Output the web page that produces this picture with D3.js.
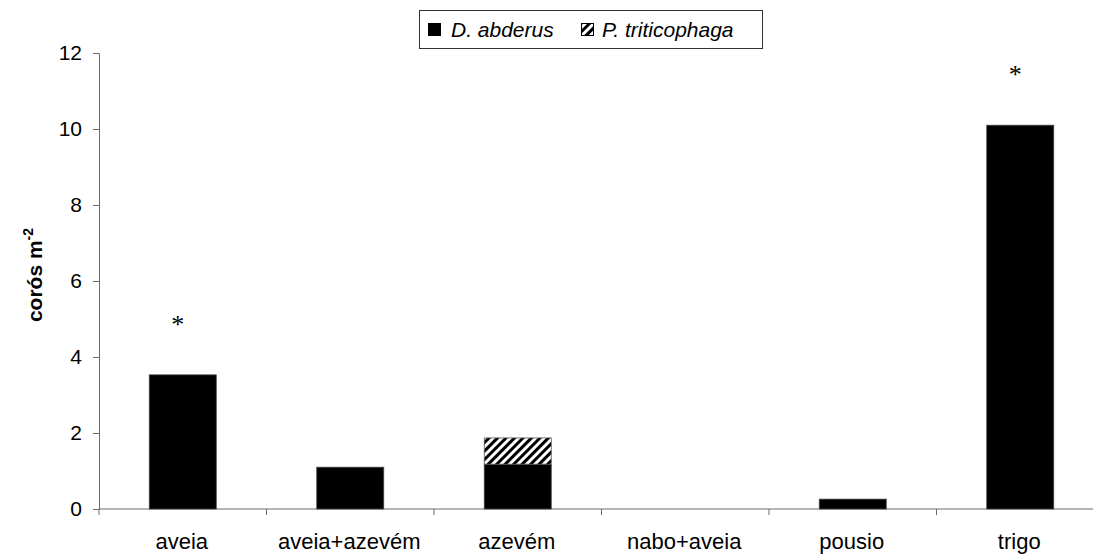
<!DOCTYPE html>
<html>
<head>
<meta charset="utf-8">
<script src="https://cdn.jsdelivr.net/npm/d3@7"></script>
<style>
  body { margin: 0; background: #fff; }
  text { font-family: "Liberation Sans", Arial, sans-serif; }
</style>
</head>
<body>
<div class="chart"></div>
<script>
var width = 1093;
var height = 554;

// data
var categories = ["aveia", "aveia+azevém", "azevém", "nabo+aveia", "pousio", "trigo"];
var abderus = [3.53, 1.1, 1.18, 0, 0.26, 10.1];
var triticophaga = [0, 0, 0.69, 0, 0, 0];
var marks = ["*", "", "", "", "", "*"];
var yTicks = [0, 2, 4, 6, 8, 10, 12];

var svg = d3.select(".chart").append("svg")
    .attr("width", width)
    .attr("height", height);

var defs = svg.append("defs");
var pat = defs.append("pattern")
    .attr("id", "hatch")
    .attr("patternUnits", "userSpaceOnUse")
    .attr("width", 6)
    .attr("height", 6)
    .attr("patternTransform", "rotate(45)");
pat.append("rect").attr("width", 6).attr("height", 6).attr("fill", "#fff");
pat.append("rect").attr("width", 3).attr("height", 6).attr("fill", "#000");

var x = d3.scaleBand()
    .domain(categories)
    .range([99, 1104])
    .paddingInner(0.6)
    .paddingOuter(0.3);

var y = d3.scaleLinear()
    .domain([0, 12])
    .range([509, 53]);

var axisColor = "#6b6b6b";

// y axis
var yAxis = svg.append("g")
    .attr("transform", "translate(99,0)")
    .call(d3.axisLeft(y).tickValues(yTicks).tickSize(6).tickPadding(11));
yAxis.select(".domain").attr("stroke", axisColor);
yAxis.selectAll(".tick line").attr("stroke", axisColor);
yAxis.selectAll(".tick text")
    .attr("font-size", 21)
    .attr("fill", "#000")
    .style("font-family", "'Liberation Sans', Arial, sans-serif");

// x axis: line + boundary ticks
svg.append("line")
    .attr("x1", 99).attr("x2", width)
    .attr("y1", y(0)).attr("y2", y(0))
    .attr("stroke", axisColor);

var step = x.step();
svg.append("g").selectAll("line")
    .data(categories)
    .enter().append("line")
    .attr("x1", function(d) { return x(d) + x.bandwidth() / 2 - step / 2; })
    .attr("x2", function(d) { return x(d) + x.bandwidth() / 2 - step / 2; })
    .attr("y1", y(0))
    .attr("y2", y(0) + 6)
    .attr("stroke", axisColor);

svg.append("g").selectAll("text")
    .data(categories)
    .enter().append("text")
    .attr("x", function(d) { return x(d) + x.bandwidth() / 2 - 1; })
    .attr("y", 549)
    .attr("text-anchor", "middle")
    .attr("font-size", 22)
    .text(function(d) { return d; });

// bars
svg.append("g").selectAll("rect")
    .data(categories)
    .enter().append("rect")
    .attr("x", function(d) { return x(d); })
    .attr("width", x.bandwidth())
    .attr("y", function(d, i) { return y(abderus[i]); })
    .attr("height", function(d, i) { return y(0) - y(abderus[i]); })
    .attr("fill", "#000")
    .attr("stroke", "#444")
    .attr("stroke-width", 0.8);

svg.append("g").selectAll("rect")
    .data(categories.filter(function(d, i) { return triticophaga[i] > 0; }))
    .enter().append("rect")
    .attr("x", function(d) { return x(d); })
    .attr("width", x.bandwidth())
    .attr("y", function(d) { var i = categories.indexOf(d); return y(abderus[i] + triticophaga[i]); })
    .attr("height", function(d) { var i = categories.indexOf(d); return y(abderus[i]) - y(abderus[i] + triticophaga[i]); })
    .attr("fill", "url(#hatch)")
    .attr("stroke", "#555")
    .attr("stroke-width", 0.8);

// significance marks
svg.append("g").selectAll("text")
    .data(categories)
    .enter().append("text")
    .attr("x", function(d) { return x(d) + x.bandwidth() / 2 - 5; })
    .attr("y", function(d, i) { return y(abderus[i] + triticophaga[i]) - 42; })
    .attr("text-anchor", "middle")
    .attr("font-size", 26)
    .style("font-family", "'Liberation Serif', 'Times New Roman', serif")
    .text(function(d, i) { return marks[i]; });

// y title
svg.append("text")
    .attr("transform", "translate(42,275) rotate(-90)")
    .attr("text-anchor", "middle")
    .attr("font-size", 21)
    .attr("font-weight", "bold")
    .text("corós m")
  .append("tspan")
    .attr("dy", -9)
    .attr("font-size", 14)
    .text("-2");

// legend
var legend = svg.append("g");
legend.append("rect")
    .attr("x", 419.5).attr("y", 10.5)
    .attr("width", 343).attr("height", 38)
    .attr("fill", "#fff")
    .attr("stroke", "#333");
legend.append("rect")
    .attr("x", 428).attr("y", 23)
    .attr("width", 13).attr("height", 13)
    .attr("fill", "#000");
legend.append("text")
    .attr("x", 451).attr("y", 37)
    .attr("font-size", 21)
    .attr("font-style", "italic")
    .text("D. abderus");
legend.append("rect")
    .attr("x", 581.5).attr("y", 23.5)
    .attr("width", 12).attr("height", 12)
    .attr("fill", "url(#hatch)")
    .attr("stroke", "#000");
legend.append("text")
    .attr("x", 602).attr("y", 37)
    .attr("font-size", 21)
    .attr("font-style", "italic")
    .text("P. triticophaga");
</script>
</body>
</html>
